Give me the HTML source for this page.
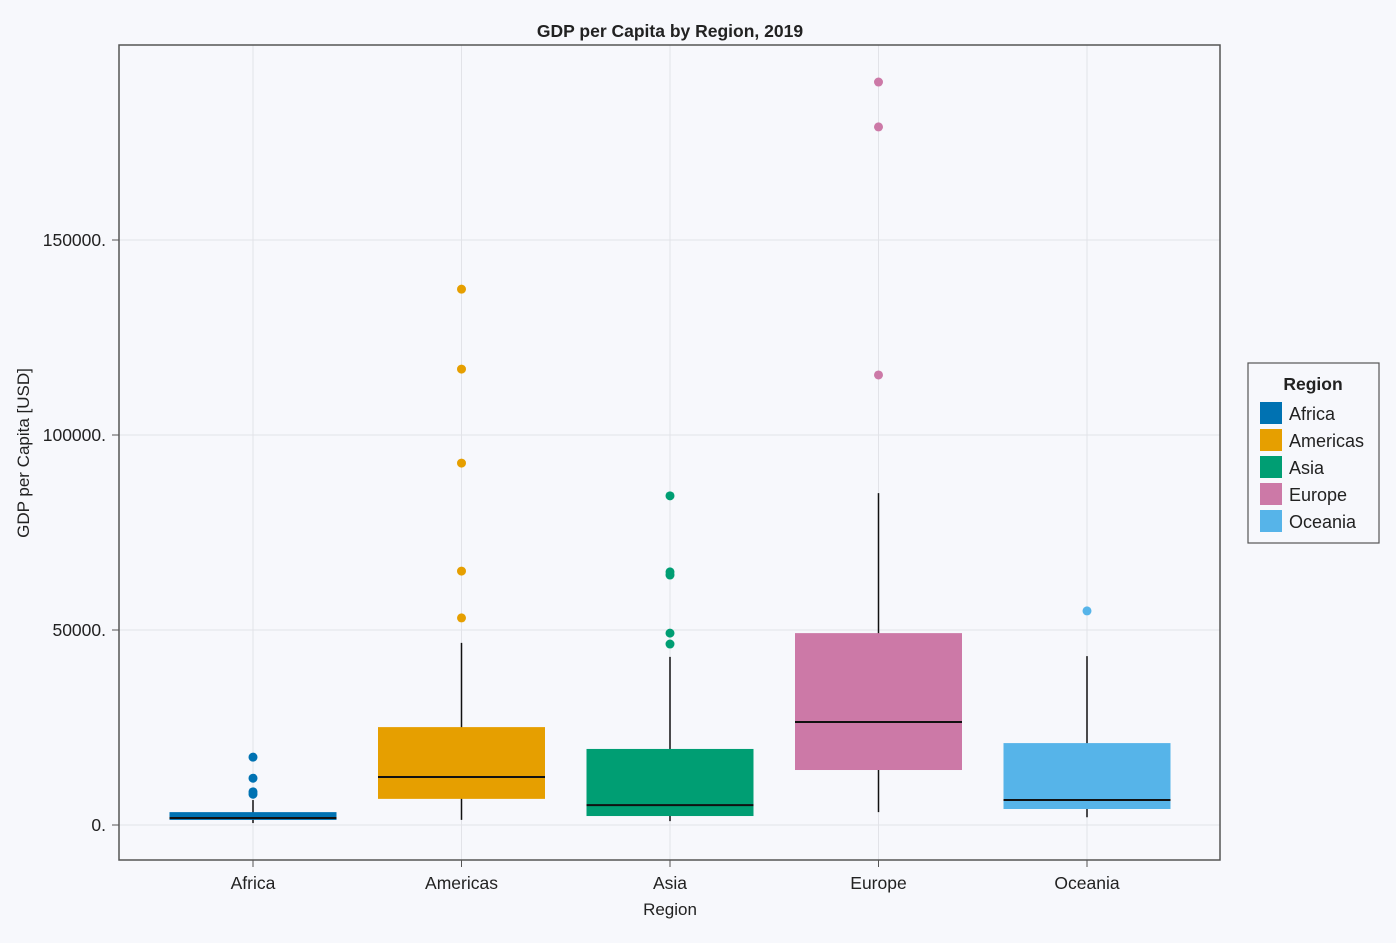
<!DOCTYPE html>
<html><head><meta charset="utf-8"><style>
body{margin:0;background:#f7f8fc;}
svg text{font-family:"Liberation Sans",sans-serif;fill:#222;}
</style></head><body>
<svg id="chart" width="1396" height="938">
<rect width="1396" height="938" fill="#f7f8fc"/>
<text x="670" y="37" text-anchor="middle" font-size="17.5" font-weight="bold">GDP per Capita by Region, 2019</text>
<g id="grid"></g>
<g id="marks"></g>
<rect x="119" y="45" width="1101" height="815" fill="none" stroke="#555" stroke-width="1.5"/>
<g id="axes"></g>
<text x="670" y="915" text-anchor="middle" font-size="17">Region</text>
<text transform="translate(29,453) rotate(-90)" text-anchor="middle" font-size="17">GDP per Capita [USD]</text>
<g>
<rect x="1248" y="363" width="131" height="180" fill="#f7f8fc" stroke="#555" stroke-width="1.2"/>
<text x="1313" y="390" text-anchor="middle" font-size="17.5" font-weight="bold">Region</text>
<g id="legend-items"></g>
</g>
</svg>
<script>
const categories=["Africa","Americas","Asia","Europe","Oceania"];
const colors=["#0072b2","#e69f00","#009e73","#cc79a7","#56b4e9"];
const q1=[1300,6700,2300,14100,4100];
const median=[1800,12300,5100,26400,6400];
const q3=[3300,25100,19500,49200,21000];
const whiskerLow=[500,1300,1000,3300,2000];
const whiskerHigh=[6400,46700,43100,85100,43300];
const outliers=[[17400,12000,8500,7900],[137400,116900,92800,65100,53100],[84400,64900,64100,49200,46400],[190500,179000,115400],[54900]];
const yTicks=[0,50000,100000,150000];
const yTickLabels=["0.","50000.","100000.","150000."];
const NS="http://www.w3.org/2000/svg";
const y=v=>825-v*0.0039;
const x=i=>253+i*208.5;
const BW=167;
function mk(tag,attrs,parent){const e=document.createElementNS(NS,tag);for(const k in attrs)e.setAttribute(k,attrs[k]);document.getElementById(parent).appendChild(e);return e;}
yTicks.forEach((t,i)=>{
 const g=mk("line",{x1:119,x2:1220,y1:y(t),y2:y(t),stroke:"#e2e3e8","stroke-width":1},"grid");
 
 
 const tk=mk("line",{x1:112,x2:119,y1:y(t),y2:y(t),stroke:"#555"},"axes");
 
 
 const tx=mk("text",{x:106,y:y(t)+6,"text-anchor":"end","font-size":"17.5"},"axes");tx.textContent=yTickLabels[i];
 
 
});
categories.forEach((c,i)=>{
 const cx=x(i);
 const g=mk("line",{x1:cx,x2:cx,y1:45,y2:860,stroke:"#e2e3e8"},"grid");
 
 
 const tk=mk("line",{x1:cx,x2:cx,y1:860,y2:867,stroke:"#555"},"axes");
 
 
 const tx=mk("text",{x:cx,y:889,"text-anchor":"middle","font-size":"17.5"},"axes");tx.textContent=c;
 
 
 const w=mk("line",{x1:cx,x2:cx,y1:y(whiskerLow[i]),y2:y(whiskerHigh[i]),stroke:"#111","stroke-width":1.5},"marks");
 
 
 const b=mk("rect",{x:cx-BW/2,y:y(q3[i]),width:BW,height:y(q1[i])-y(q3[i]),fill:colors[i]},"marks");
 
 
 const m=mk("line",{x1:cx-BW/2,x2:cx+BW/2,y1:y(median[i]),y2:y(median[i]),stroke:"#111","stroke-width":2},"marks");
 
 
 outliers[i].forEach(v=>{
  const p=mk("circle",{cx:cx,cy:y(v),r:4.5,fill:colors[i]},"marks");
  
  
 });
 const ly=402+i*27;
 const s=mk("rect",{x:1260,y:ly,width:22,height:22,fill:colors[i]},"legend-items");
 
 
 const lt=mk("text",{x:1289,y:ly+18,"font-size":"18"},"legend-items");lt.textContent=c;
 
 
});
</script>
</body></html>
